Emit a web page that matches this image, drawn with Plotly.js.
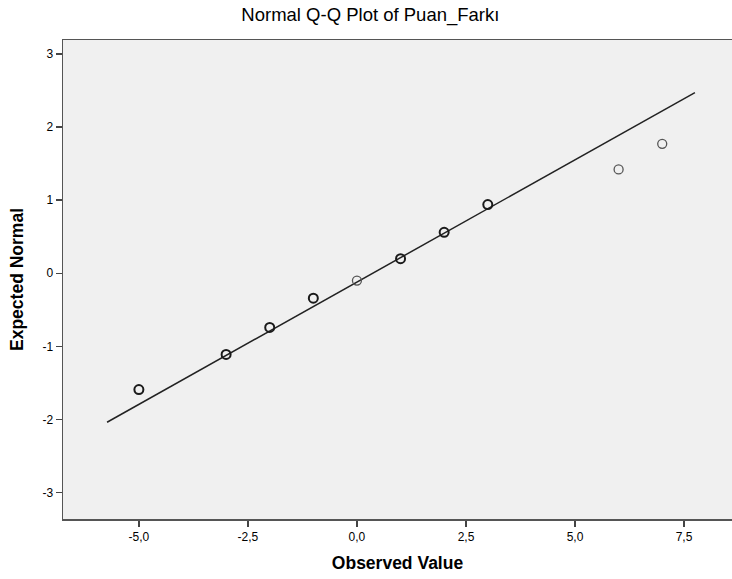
<!DOCTYPE html>
<html>
<head>
<meta charset="utf-8">
<script src="https://cdn.plot.ly/plotly-3.0.1.min.js"></script>
<style>html,body{margin:0;padding:0;background:#fff;}#chart{width:732px;height:579px;}</style>
</head>
<body>
<div id="chart"></div>
<script>
var observedTied = [-5, -3, -2, -1, 1, 2, 3];
var expectedTied = [-1.59, -1.11, -0.74, -0.34, 0.20, 0.56, 0.94];
var observedSingle = [0, 6, 7];
var expectedSingle = [-0.10, 1.42, 1.77];
// Reference line: expected = (observed - mean) / sd
var fitMean = 0.36;
var fitSd = 2.99;
var lineX = [-5.73, 7.75];
var lineY = lineX.map(function (v) { return (v - fitMean) / fitSd; });
var xTicks = [-5, -2.5, 0, 2.5, 5, 7.5];
var xTickLabels = ['-5,0', '-2,5', '0,0', '2,5', '5,0', '7,5'];
var yTicks = [-3, -2, -1, 0, 1, 2, 3];
var yTickLabels = ['-3', '-2', '-1', '0', '1', '2', '3'];

var traces = [
  {x: lineX, y: lineY, mode: 'lines', type: 'scatter',
   line: {color: '#222', width: 1.5}, hoverinfo: 'skip'},
  {x: observedTied, y: expectedTied, mode: 'markers', type: 'scatter',
   marker: {symbol: 'circle-open', size: 9, color: '#1a1a1a', line: {width: 2, color: '#1a1a1a'}}},
  {x: observedSingle, y: expectedSingle, mode: 'markers', type: 'scatter',
   marker: {symbol: 'circle-open', size: 9, color: '#555', line: {width: 1.3, color: '#555'}}}
];

var layout = {
  width: 732, height: 579,
  margin: {l: 63, r: 0, t: 40, b: 60},
  paper_bgcolor: '#ffffff',
  plot_bgcolor: '#f0f0f0',
  showlegend: false,
  font: {family: 'Liberation Sans, Arial, sans-serif', color: '#000', size: 12},
  title: {text: 'Normal Q-Q Plot of Puan_Farkı', x: 0.506, xanchor: 'center', y: 0.975, yanchor: 'middle',
          font: {size: 18.5, color: '#000'}},
  xaxis: {
    range: [-6.74, 8.6], tickmode: 'array', tickvals: xTicks, ticktext: xTickLabels,
    showgrid: false, zeroline: false,
    showline: true, linecolor: '#555', linewidth: 1.5, mirror: true,
    ticks: 'outside', ticklen: 6, tickcolor: '#444', tickwidth: 1.5,
    tickfont: {size: 12, color: '#000'},
    title: {text: 'Observed Value', font: {size: 17.5, color: '#000', weight: 'bold'}, standoff: 14}
  },
  yaxis: {
    range: [-3.36, 3.19], tickmode: 'array', tickvals: yTicks, ticktext: yTickLabels,
    showgrid: false, zeroline: false,
    showline: true, linecolor: '#555', linewidth: 1.5,
    ticks: 'outside', ticklen: 6, tickcolor: '#444', tickwidth: 1.5,
    tickfont: {size: 12, color: '#000'},
    title: {text: 'Expected Normal', font: {size: 17.5, color: '#000', weight: 'bold'}, standoff: 14}
  }
};

Plotly.newPlot('chart', traces, layout, {staticPlot: true, displayModeBar: false});
</script>
</body>
</html>
